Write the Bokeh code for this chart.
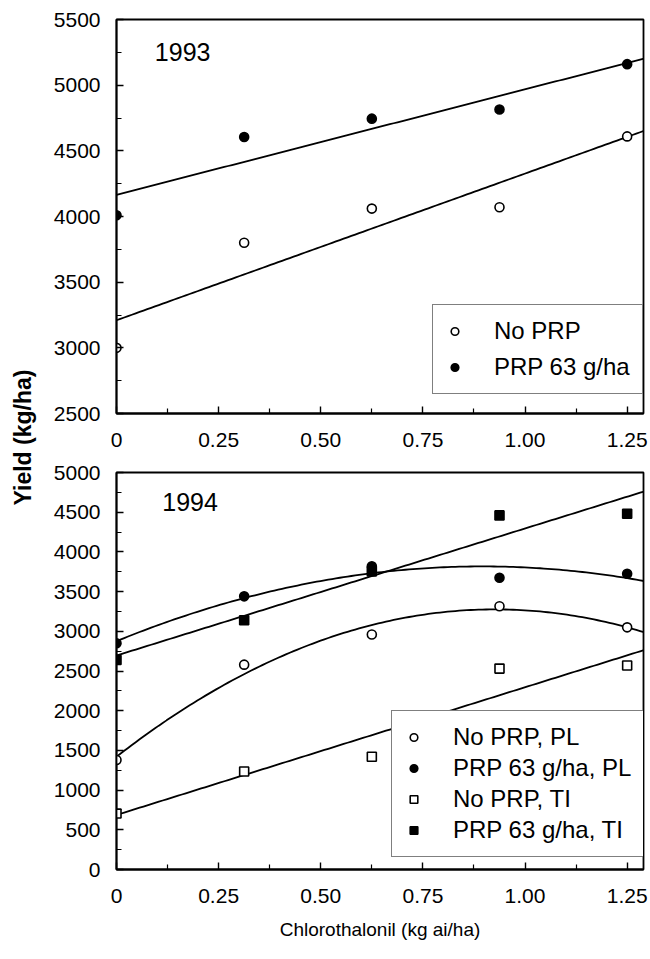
import numpy as np
from bokeh.plotting import figure
from bokeh.layouts import row, column
from bokeh.models import Range1d, FixedTicker, Legend, LegendItem, Label
from bokeh.embed import file_html
from bokeh.resources import INLINE

FONT = "Liberation Sans"

# ---------------- data ----------------
rates = [0.0, 0.3125, 0.625, 0.9375, 1.25]          # chlorothalonil, kg ai/ha

# 1993
y93_no_prp = [3000, 3800, 4060, 4070, 4610]
y93_prp63 = [4010, 4605, 4745, 4815, 5160]

# 1994
y94_no_prp_pl = [1380, 2580, 2960, 3315, 3050]
y94_prp63_pl = [2850, 3440, 3820, 3675, 3725]
y94_no_prp_ti = [705, 1235, 1420, 2530, 2570]
y94_prp63_ti = [2640, 3140, 3755, 4460, 4480]

x_ticks = [0, 0.25, 0.5, 0.75, 1.0, 1.25]
x_tick_labels = ["0", "0.25", "0.50", "0.75", "1.00", "1.25"]
x_minor_ticks = [0.125, 0.375, 0.625, 0.875, 1.125]
y93_ticks = [2500, 3000, 3500, 4000, 4500, 5000, 5500]
y93_minor = [2750, 3250, 3750, 4250, 4750, 5250]
y94_ticks = [0, 500, 1000, 1500, 2000, 2500, 3000, 3500, 4000, 4500, 5000]
y94_minor = [250, 750, 1250, 1750, 2250, 2750, 3250, 3750, 4250, 4750]

X_END = 1.29


def style(p, yt, ymin, show_xlabel):
    p.xgrid.visible = False
    p.ygrid.visible = False
    p.outline_line_color = "black"
    p.outline_line_width = 1.8
    p.background_fill_color = "white"
    p.border_fill_color = "white"
    p.xaxis.ticker = FixedTicker(ticks=x_ticks, minor_ticks=x_minor_ticks)
    p.xaxis.major_label_overrides = {t: l for t, l in zip(x_ticks, x_tick_labels)}
    p.yaxis.ticker = FixedTicker(ticks=yt, minor_ticks=ymin)
    for ax in (p.xaxis[0], p.yaxis[0]):
        ax.axis_line_color = "black"
        ax.axis_line_width = 1.8
        ax.major_tick_in = 7
        ax.major_tick_out = 0
        ax.minor_tick_in = 5
        ax.minor_tick_out = 0
        ax.major_tick_line_width = 1.4
        ax.minor_tick_line_width = 1.2
        ax.major_tick_line_color = "black"
        ax.minor_tick_line_color = "black"
        ax.major_label_text_font = FONT
        ax.major_label_text_font_size = "21px"
        ax.major_label_text_color = "black"
    p.xaxis.major_label_standoff = 19
    p.yaxis.major_label_standoff = 16
    if show_xlabel:
        p.xaxis.axis_label = "Chlorothalonil (kg ai/ha)"
        p.xaxis.axis_label_text_font = FONT
        p.xaxis.axis_label_text_font_size = "19px"
        p.xaxis.axis_label_text_font_style = "normal"
        p.xaxis.axis_label_text_color = "black"
        p.xaxis.axis_label_standoff = 13


def fit_line(p, ys, deg):
    coef = np.polyfit(rates, ys, deg)
    xf = np.linspace(0, X_END + 0.02, 140)
    p.line(xf, np.polyval(coef, xf), line_color="black", line_width=1.8)


def make_legend(p, entries, loc, spacing):
    items = [LegendItem(label=lab, renderers=[r]) for lab, r in entries]
    lg = Legend(items=items, location=loc)
    lg.label_text_font = FONT
    lg.label_text_font_size = "24px"
    lg.label_text_color = "black"
    lg.border_line_color = "black"
    lg.border_line_width = 1.6
    lg.background_fill_color = "white"
    lg.background_fill_alpha = 1.0
    lg.padding = 12
    lg.spacing = spacing
    lg.glyph_width = 19
    lg.glyph_height = 24
    lg.label_height = 24
    lg.label_standoff = 30
    lg.margin = 0
    p.add_layout(lg)


def pts(p, ys, marker, filled):
    return p.scatter(rates, ys, marker=marker, size=9,
                     fill_color="black" if filled else "white",
                     line_color="black", line_width=1.6)


# ---------------- 1993 panel ----------------
p1 = figure(width=612, height=458, output_backend="svg", toolbar_location=None,
            x_range=Range1d(0, X_END), y_range=Range1d(2500, 5500),
            min_border_left=78, min_border_right=7, min_border_top=19, min_border_bottom=45)
style(p1, y93_ticks, y93_minor, False)
fit_line(p1, y93_no_prp, 1)
fit_line(p1, y93_prp63, 1)
r1a = pts(p1, y93_no_prp, "circle", False)
r1b = pts(p1, y93_prp63, "circle", True)
p1.add_layout(Label(x=0.162, y=5250, text="1993", text_font=FONT, text_font_size="25px",
                    text_align="center", text_baseline="middle", text_color="black"))
make_legend(p1, [("No PRP", r1a), ("PRP 63 g/ha", r1b)], (316, 19), 8)

# ---------------- 1994 panel ----------------
p2 = figure(width=612, height=500, output_backend="svg", toolbar_location=None,
            x_range=Range1d(0, X_END), y_range=Range1d(0, 5000),
            min_border_left=78, min_border_right=7, min_border_top=14, min_border_bottom=89)
style(p2, y94_ticks, y94_minor, True)
fit_line(p2, y94_no_prp_pl, 2)
fit_line(p2, y94_prp63_pl, 2)
fit_line(p2, y94_no_prp_ti, 1)
fit_line(p2, y94_prp63_ti, 1)
r2a = pts(p2, y94_no_prp_pl, "circle", False)
r2b = pts(p2, y94_prp63_pl, "circle", True)
r2c = pts(p2, y94_no_prp_ti, "square", False)
r2d = pts(p2, y94_prp63_ti, "square", True)
p2.add_layout(Label(x=0.18, y=4630, text="1994", text_font=FONT, text_font_size="25px",
                    text_align="center", text_baseline="middle", text_color="black"))
make_legend(p2, [("No PRP, PL", r2a), ("PRP 63 g/ha, PL", r2b),
                 ("No PRP, TI", r2c), ("PRP 63 g/ha, TI", r2d)], (275, 12), 3)

# ---------------- shared y-axis title ----------------
H = 958
py = figure(width=38, height=H, output_backend="svg", toolbar_location=None,
            x_range=Range1d(0, 38), y_range=Range1d(0, H),
            x_axis_type=None, y_axis_type=None, min_border=0)
py.outline_line_color = None
py.xgrid.visible = False
py.ygrid.visible = False
py.add_layout(Label(x=22, y=H - 437, text="Yield (kg/ha)", angle=np.pi / 2,
                    text_font=FONT, text_font_size="23px", text_font_style="bold",
                    text_align="center", text_baseline="middle", text_color="black"))

layout = row(py, column(p1, p2))
open("out.html", "w").write(file_html(layout, INLINE))
